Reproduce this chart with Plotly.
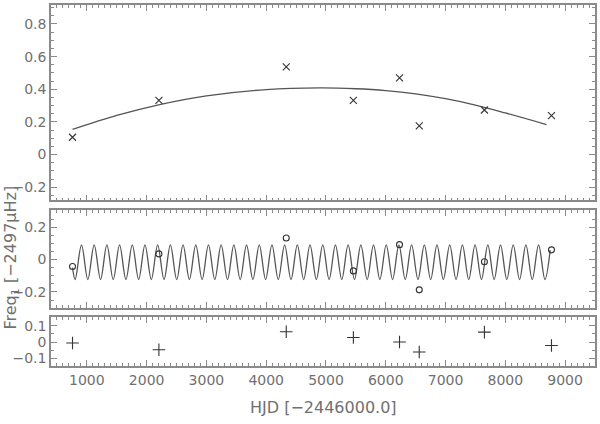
import plotly.graph_objects as go

# observation epochs (HJD - 2446000)
hjd = [760, 2205, 4335, 5458, 6230, 6560, 7650, 8772]

# panel 1: frequency offsets and the smooth long-term trend
freq_obs = [0.106, 0.332, 0.537, 0.332, 0.470, 0.176, 0.273, 0.238]
trend_x = [760, 1500, 2200, 3000, 4000, 4900, 5500, 6000, 6500, 7000, 7500, 8000, 8688]
trend_y = [0.154, 0.240, 0.305, 0.360, 0.398, 0.408, 0.403, 0.392, 0.372, 0.342, 0.303, 0.255, 0.184]

detrended = [-0.043, 0.035, 0.133, -0.070, 0.092, -0.187, -0.014, 0.060]
wave_peaks = [910, 1122, 1335, 1547, 1760, 1972, 2184, 2397, 2609, 2822,
              3034, 3246, 3459, 3671, 3884, 4096, 4308, 4521, 4733, 4946,
              5158, 5370, 5583, 5795, 6008, 6220, 6432, 6645, 6857, 7070,
              7282, 7494, 7707, 7919, 8132, 8344, 8556]
wave_troughs = [804, 1016, 1229, 1441, 1653, 1866, 2078, 2291, 2503, 2715,
                2928, 3140, 3353, 3565, 3777, 3990, 4202, 4415, 4627, 4839,
                5052, 5264, 5477, 5689, 5901, 6114, 6326, 6539, 6751, 6963,
                7176, 7388, 7601, 7813, 8025, 8238, 8450, 8663]
peak_val = 0.090
trough_val = -0.123
wave_start = (760, -0.050)
wave_end = (8750, 0.058)

# panel 3: residuals
resid = [-0.006, -0.047, 0.063, 0.028, 0.000, -0.061, 0.061, -0.021]

pts = [wave_start] + [(x, peak_val) for x in wave_peaks] + \
      [(x, trough_val) for x in wave_troughs] + [wave_end]
pts.sort()
wave_x = [p[0] for p in pts]
wave_y = [p[1] for p in pts]

ink = '#333333'
frame = '#8a8a8a'
txt = '#707070'

fig = go.Figure()
fig.add_trace(go.Scatter(x=trend_x, y=trend_y, mode='lines', line=dict(color='#555555', width=1.3, shape='spline'),
                         xaxis='x', yaxis='y'))
fig.add_trace(go.Scatter(x=hjd, y=freq_obs, mode='markers',
                         marker=dict(symbol='x-thin', size=7, color=ink, line=dict(color=ink, width=1.1)),
                         xaxis='x', yaxis='y'))
fig.add_trace(go.Scatter(x=wave_x, y=wave_y, mode='lines', line=dict(color='#555555', width=1.3, shape='spline'),
                         xaxis='x2', yaxis='y2'))
fig.add_trace(go.Scatter(x=hjd, y=detrended, mode='markers',
                         marker=dict(symbol='circle-open', size=6, color=ink, line=dict(color=ink, width=1.1)),
                         xaxis='x2', yaxis='y2'))
fig.add_trace(go.Scatter(x=hjd, y=resid, mode='markers',
                         marker=dict(symbol='cross-thin', size=9, color=ink, line=dict(color=ink, width=1.1)),
                         xaxis='x3', yaxis='y3'))

tickfont = dict(family='DejaVu Sans', size=14, color=txt)
xcommon = dict(range=[400, 9500], dtick=1000, ticks='inside', ticklen=6, tickcolor=frame,
               showline=True, linecolor=frame, linewidth=1.5, mirror='allticks',
               showgrid=False, zeroline=False, tickfont=tickfont,
               minor=dict(dtick=100, ticks='inside', ticklen=3, tickcolor=frame))
ycommon = dict(ticks='inside', ticklen=6, tickcolor=frame,
               showline=True, linecolor=frame, linewidth=1.5, mirror='allticks',
               showgrid=False, zeroline=False, tickfont=tickfont)

fig.update_layout(
    width=600, height=424, margin=dict(l=51, r=3, t=4, b=58),
    plot_bgcolor='white', paper_bgcolor='white', showlegend=False,
    xaxis=dict(xcommon, anchor='y', showticklabels=False),
    xaxis2=dict(xcommon, anchor='y2', showticklabels=False),
    xaxis3=dict(xcommon, anchor='y3'),
    yaxis=dict(ycommon, domain=[0.4586, 1.0], range=[-0.281, 0.916], dtick=0.2,
               minor=dict(dtick=0.05, ticks='inside', ticklen=3, tickcolor=frame)),
    yaxis2=dict(ycommon, domain=[0.1602, 0.4309], range=[-0.3, 0.303], dtick=0.2,
                minor=dict(dtick=0.05, ticks='inside', ticklen=3, tickcolor=frame)),
    yaxis3=dict(ycommon, domain=[0.0, 0.1354], range=[-0.147, 0.153], dtick=0.1,
                minor=dict(dtick=0.05, ticks='inside', ticklen=3, tickcolor=frame)),
)

fig.add_annotation(text='Freq<sub>1</sub> [\u22122497\u03bcHz]', xref='paper', yref='paper',
                   x=-0.072, y=0.30, xanchor='center', yanchor='middle', textangle=-90,
                   showarrow=False, font=dict(family='DejaVu Sans', size=16, color=txt))
fig.add_annotation(text='HJD [\u22122446000.0]', xref='paper', yref='paper',
                   x=0.5, y=-0.116, xanchor='center', yanchor='middle',
                   showarrow=False, font=dict(family='DejaVu Sans', size=16, color=txt))

# page body has a default margin; drop it so the figure sits at the window corner
fig.write_html('out.html', config={'displayModeBar': False},
               post_script="document.body.style.margin='0px';")
